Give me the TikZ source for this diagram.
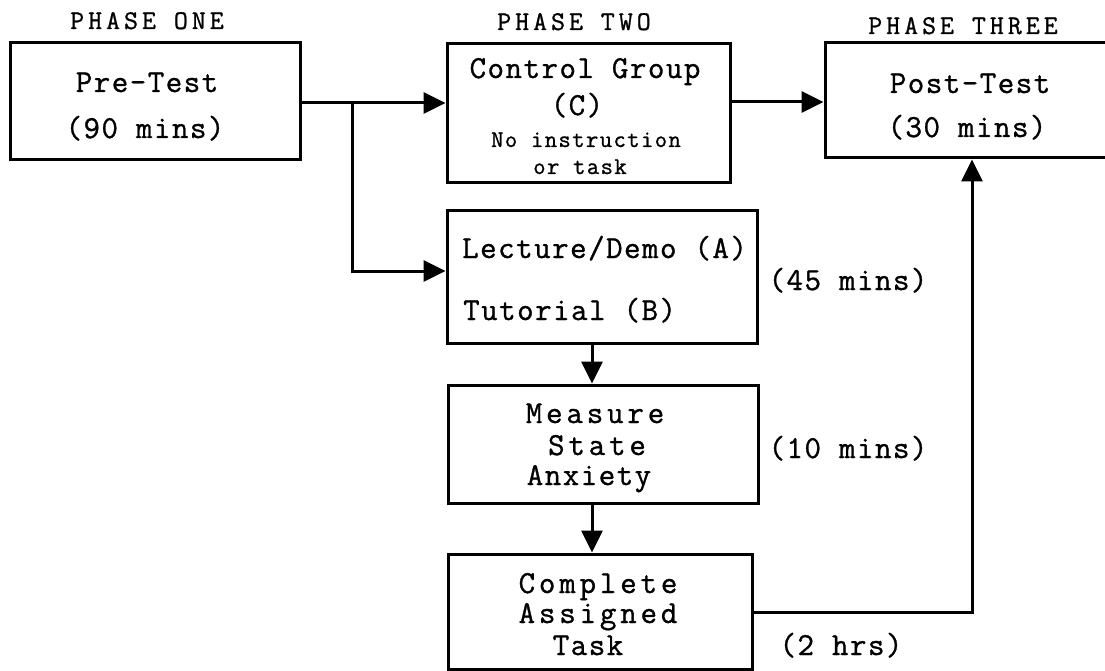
\documentclass[tikz,border=0pt]{standalone}
\usepackage{fontspec}
\setmonofont{Latin Modern Mono}
\usetikzlibrary{arrows.meta,calc}

% typewriter faces used in the flow chart
\newcommand\boxtxt{\ttfamily\fontsize{32}{34}\selectfont\addfontfeature{LetterSpace=4.7,FakeBold=1}}
\newcommand\widetxt{\ttfamily\fontsize{32}{34}\selectfont\addfontfeature{LetterSpace=12,FakeBold=1}}
\newcommand\smalltxt{\ttfamily\fontsize{24}{26}\selectfont\addfontfeature{LetterSpace=5.8,FakeBold=1}}
\newcommand\phasetxt{\ttfamily\fontsize{27}{29}\selectfont\addfontfeature{LetterSpace=15,FakeBold=1}}

\tikzset{
  box/.style={draw, rectangle, line width=3pt, inner sep=0pt},
  arr/.style={line width=3pt, -{Triangle[length=22pt,width=21pt]}},
  txt/.style={anchor=base, inner sep=0pt, font=\boxtxt},
  wide/.style={anchor=base, inner sep=0pt, font=\widetxt},
  small/.style={anchor=base, inner sep=0pt, font=\smalltxt},
  phase/.style={anchor=base, inner sep=0pt, font=\phasetxt},
}

\begin{document}
\begin{tikzpicture}[x=1pt,y=-1pt]
\useasboundingbox (0,0) rectangle (1105,671);
\clip (0,0) rectangle (1105,671);

% boxes
\node[box, minimum width=290pt, minimum height=117pt] (pre)  at (155,101.5) {};
\node[box, minimum width=283pt, minimum height=139pt] (ctrl) at (588.5,113.5) {};
\node[box, minimum width=286pt, minimum height=115pt] (post) at (968,100.5) {};
\node[box, minimum width=310pt, minimum height=133pt] (lect) at (602,276.5) {};
\node[box, minimum width=310pt, minimum height=118pt] (meas) at (603,444) {};
\node[box, minimum width=304pt, minimum height=115pt] (comp) at (600,611.5) {};

% phase headings
\node[phase] (p1) at (147,29) {PHASE ONE};
\node[phase] (p2) at (574,30) {PHASE TWO};
\node[phase] (p3) at (963,34) {PHASE THREE};

% box texts
\node[txt] (pre1) at (147,92) {Pre-Test};
\node[txt] (pre2) at (145,138) {(90 mins)};
\node[txt] (c1) at (585,78) {Control Group};
\node[txt] (c2) at (577,115) {(C)};
\node[small] (c3) at (586,147) {No instruction};
\node[small] (c4) at (580,174) {or task};
\node[txt] (po1) at (970,93) {Post-Test};
\node[txt] (po2) at (967,137) {(30 mins)};
\node[txt, anchor=base west] (l1) at (462,258) {Lecture/Demo (A)};
\node[txt, anchor=base west] (l2) at (463,320) {Tutorial (B)};
\node[wide] (m1) at (595,423) {Measure};
\node[wide] (m2) at (597,455) {State};
\node[txt] (m3) at (589,485) {Anxiety};
\node[wide] (k1) at (598,593) {Complete};
\node[wide] (k2) at (598,623) {Assigned};
\node[txt] (k3) at (588,655) {Task};

% durations
\node[txt] (t45) at (848,290) {(45 mins)};
\node[txt] (t10) at (848,458) {(10 mins)};
\node[txt] (t2)  at (841,655) {(2 hrs)};

% routing points
\coordinate (split) at (352,103);
\coordinate (row)   at (0,102);
\coordinate (col)   at (592,0);
\coordinate (ret)   at (972,612);

% connectors
\draw[arr] (pre.east |- split) -- (ctrl.west |- split);
\draw[arr] (split) |- ($(lect.west)+(0,-5.5)$);
\draw[arr] (ctrl.east |- row) -- (post.west |- row);
\draw[arr] (lect.south -| col) -- (meas.north -| col);
\draw[arr] (meas.south -| col) -- (comp.north -| col);
\draw[arr] (comp.east |- ret) -| (post.south -| ret);
\end{tikzpicture}
\end{document}
